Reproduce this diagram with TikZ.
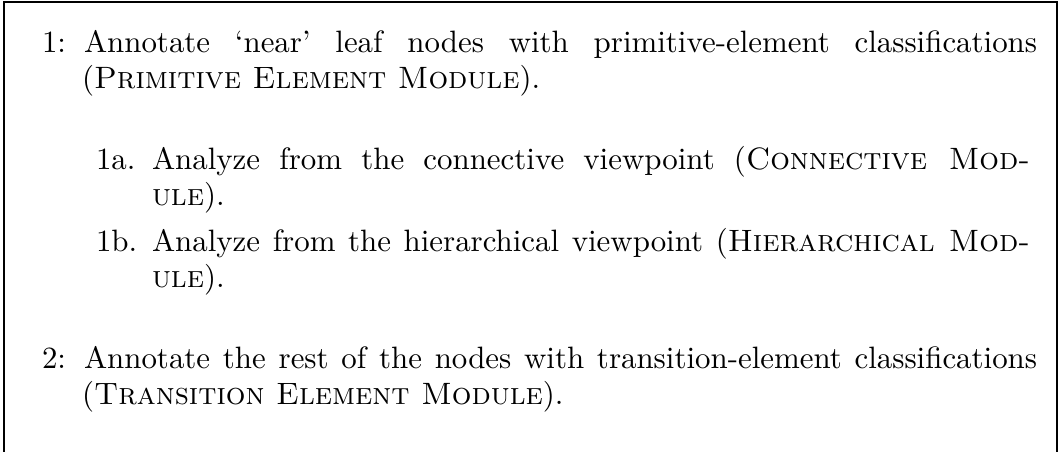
\documentclass[tikz,border=0pt]{standalone}
\begin{document}
\begin{tikzpicture}[x=0.33333pt,y=-0.33333pt,
  txt/.style={anchor=base west,inner sep=0pt,outer sep=0pt,font=\fontsize{10.3}{12.4}\selectfont},
  lbl/.style={anchor=base west,inner sep=0pt,outer sep=0pt,font=\fontsize{10.3}{12.4}\selectfont},
  frame/.style={line width=0.7pt}]
\useasboundingbox (0,0) rectangle (1062,452);
\coordinate (bl) at (4,452);
\coordinate (tl) at (4,2);
\coordinate (tr) at (1057,2);
\coordinate (br) at (1057,452);
\draw[frame] (bl) -- (tl) -- (tr) -- (br);
% item 1
\node[lbl] (l1) at (42,53) {1:};
\node[txt] (t1a) at (84,53) {\makebox[317.7pt][s]{Annotate `near' leaf nodes with primitive-element classifications}};
\node[txt] (t1b) at (82,89) {(\textsc{Primitive Element Module}).};
% item 1a
\node[lbl] (l1a) at (96,169) {1a.};
\node[txt] (t2a) at (152,169) {\makebox[292.7pt][s]{Analyze from the connective viewpoint (\textsc{Connective Mod-}}};
\node[txt] (t2b) at (152,205) {\textsc{ule}).};
% item 1b
\node[lbl] (l1b) at (96,251) {1b.};
\node[txt] (t3a) at (152,251) {\makebox[292.7pt][s]{Analyze from the hierarchical viewpoint (\textsc{Hierarchical Mod-}}};
\node[txt] (t3b) at (152,287) {\textsc{ule}).};
% item 2
\node[lbl] (l2) at (42,368) {2:};
\node[txt] (t4a) at (84,368) {\makebox[317.7pt][s]{Annotate the rest of the nodes with transition-element classifications}};
\node[txt] (t4b) at (82,404) {(\textsc{Transition Element Module}).};
\end{tikzpicture}
\end{document}
